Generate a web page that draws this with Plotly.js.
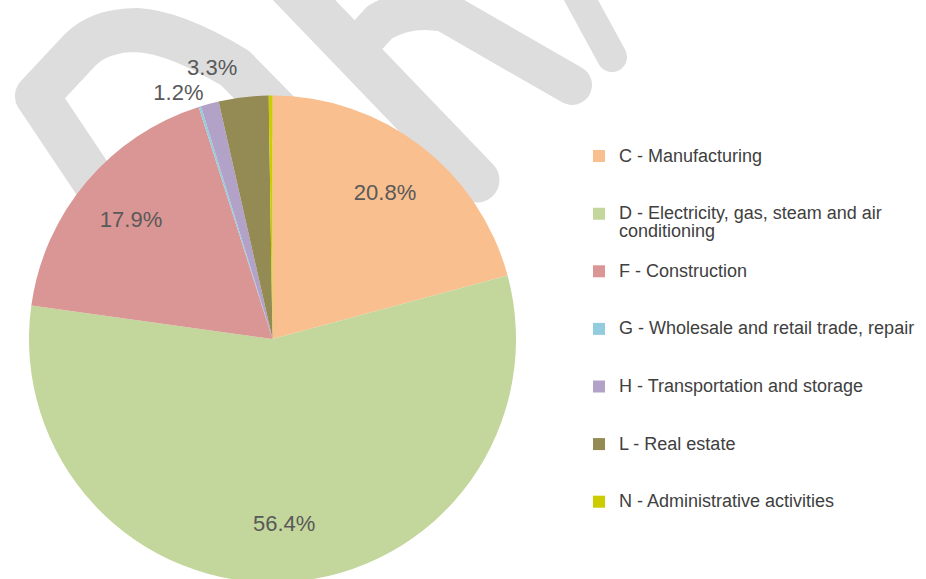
<!DOCTYPE html>
<html>
<head>
<meta charset="utf-8">
<script src="https://cdn.plot.ly/plotly-3.0.1.min.js"></script>
<style>
  html, body { margin: 0; padding: 0; overflow: hidden; background: #ffffff; }
  #chart { width: 926px; height: 600px; }
  #chart path.textline { display: none !important; }
</style>
</head>
<body>
<div id="chart"></div>
<script>
// ---- data ----
const categories = [
  'C - Manufacturing',
  'D - Electricity, gas, steam and air conditioning',
  'F - Construction',
  'G - Wholesale and retail trade, repair',
  'H - Transportation and storage',
  'L - Real estate',
  'N - Administrative activities'
];
// legend text lines (wrapping as in the reference)
const legendLines = [
  ['C - Manufacturing'],
  ['D - Electricity, gas, steam and air', 'conditioning'],
  ['F - Construction'],
  ['G - Wholesale and retail trade, repair'],
  ['H - Transportation and storage'],
  ['L - Real estate'],
  ['N - Administrative activities']
];
const shares = [20.8, 56.4, 17.9, 0.15, 1.2, 3.3, 0.25];
const insideLabels = ['inside', 'inside', 'inside', 'none', 'none', 'none', 'none'];
const outsideLabels = ['none', 'none', 'none', 'none', 'outside', 'outside', 'none'];
const sliceColors = ['#F9BF8F', '#C3D69B', '#D99694', '#93CDDD', '#B3A2C7', '#948A54', '#CCCC00'];

// ---- build legend labels (3 text lines each so entries are evenly spaced) ----
const legendLabels = legendLines.map(lines => {
  const parts = lines.map(l => '<span style="font-size:18px">' + l + '</span>');
  while (parts.length < 3) parts.push('\u00a0');
  return parts.join('<br>');
});

// ---- watermark (decoration, drawn behind the pie) ----
const wm = '<svg xmlns="http://www.w3.org/2000/svg" width="926" height="600" viewBox="0 0 926 600">' +
  '<g fill="none" stroke="#dddddd" stroke-linecap="round" stroke-linejoin="round">' +
  '<path stroke-width="44" d="M 140,250 L 37,96 L 80,50 Q 100,30 137,30 Q 175,32 235,68 L 345,180"/>' +
  '<path stroke-width="45" d="M 280,-25 L 477,180"/>' +
  '<path stroke-width="40" d="M 358,46 L 380,22 Q 410,5 445,12 L 572,85"/>' +
  '<path stroke-width="30" d="M 570,-20 L 612,57"/>' +
  '</g></svg>';
const wmSrc = 'data:image/svg+xml;charset=utf-8,' + encodeURIComponent(wm);

const W = 926, H = 600;
const cx = 272.5, cy = 339, R = 243.5;
const pieDomain = {
  x: [(cx - R) / W, (cx + R) / W],
  y: [(H - (cy + R)) / H, (H - (cy - R)) / H]
};
const labelFont = { family: 'Liberation Sans, Arial, sans-serif', size: 22, color: '#595959' };

// main pie: slices + legend + small outside labels
const pieTrace = {
  type: 'pie',
  labels: legendLabels,
  values: shares,
  sort: false,
  direction: 'clockwise',
  rotation: 0,
  marker: { colors: sliceColors, line: { width: 0 } },
  textposition: outsideLabels,
  texttemplate: '%{percent:.1%}',
  textfont: labelFont,
  outsidetextfont: labelFont,
  hoverinfo: 'skip',
  domain: pieDomain
};

// transparent ring carrying the inside percentage labels (places them near the rim)
const labelRing = {
  type: 'pie',
  labels: legendLabels,
  values: shares,
  sort: false,
  direction: 'clockwise',
  rotation: 0,
  hole: 0.52,
  showlegend: false,
  marker: { colors: sliceColors.map(() => 'rgba(0,0,0,0)'), line: { width: 0 } },
  textposition: insideLabels,
  texttemplate: '%{percent:.1%}',
  textfont: labelFont,
  insidetextfont: labelFont,
  insidetextorientation: 'horizontal',
  hoverinfo: 'skip',
  domain: pieDomain
};

const layout = {
  width: W,
  height: H,
  margin: { l: 0, r: 0, t: 0, b: 0, pad: 0 },
  paper_bgcolor: '#ffffff',
  showlegend: true,
  legend: {
    x: 579 / W,
    xanchor: 'left',
    y: 1 - 140.5 / H,
    yanchor: 'top',
    valign: 'top',
    font: { family: 'Liberation Sans, Arial, sans-serif', size: 14, color: '#404040' },
    bgcolor: 'rgba(0,0,0,0)',
    borderwidth: 0
  },
  images: [{
    source: wmSrc,
    xref: 'paper', yref: 'paper',
    x: 0, y: 1, sizex: 1, sizey: 1,
    xanchor: 'left', yanchor: 'top',
    sizing: 'stretch',
    layer: 'below'
  }]
};

Plotly.newPlot('chart', [pieTrace, labelRing], layout, { staticPlot: true, displayModeBar: false });
</script>
</body>
</html>
